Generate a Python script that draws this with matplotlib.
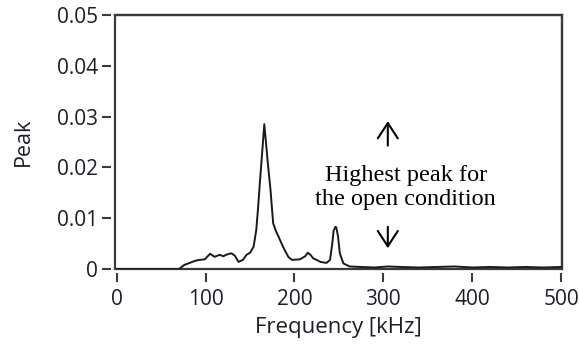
import matplotlib
matplotlib.use("Agg")
import matplotlib.pyplot as plt

freq_khz = [0, 70, 76, 82, 88, 93, 99, 105, 110, 116, 120, 123, 129, 133, 137,
            142, 146, 150, 154, 157, 159, 161, 164, 166, 167.5, 170, 173, 176,
            179, 182, 187, 193, 197, 206, 212, 215, 218, 221, 225, 229, 236,
            240, 242.5, 244, 246, 247, 249, 251, 255, 262, 275, 290, 305, 320,
            340, 360, 380, 400, 420, 440, 460, 480, 500]
peak = [0.0, 0.0, 0.0008, 0.0012, 0.0016, 0.0018, 0.0019, 0.003, 0.0024,
        0.0028, 0.0025, 0.0028, 0.0031, 0.0026, 0.0014, 0.0018, 0.0028, 0.0032,
        0.0044, 0.0077, 0.012, 0.0169, 0.0238, 0.0285, 0.0257, 0.0208, 0.0156,
        0.009, 0.0075, 0.0064, 0.0044, 0.0024, 0.0018, 0.0019, 0.0025, 0.0032,
        0.0028, 0.0021, 0.0018, 0.0014, 0.0012, 0.0018, 0.005, 0.0075, 0.0083,
        0.0082, 0.0064, 0.0031, 0.0011, 0.0005, 0.0004, 0.0003, 0.0005, 0.0004,
        0.0003, 0.0004, 0.0005, 0.0003, 0.0004, 0.0003, 0.0004, 0.0003, 0.0004]

x_ticks = [0, 100, 200, 300, 400, 500]
y_ticks = [0, 0.01, 0.02, 0.03, 0.04, 0.05]
y_tick_labels = ["0", "0.01", "0.02", "0.03", "0.04", "0.05"]

tick_font = "Open Sans"
frame_col = "#3a3a3a"
text_col = "#1e1e28"

fig = plt.figure(figsize=(5.79, 3.54), dpi=100)
ax = fig.add_axes([0.1986, 0.2401, 0.7720, 0.7175])
ax.plot(freq_khz, peak, color="#1a1a1a", lw=1.4, zorder=3)

ax.set_xlim(-2, 501)
ax.set_ylim(0, 0.05)
ax.set_xticks(x_ticks)
ax.set_yticks(y_ticks)
ax.set_yticklabels(y_tick_labels)

for s in ["left", "bottom"]:
    ax.spines[s].set_position(("outward", 3))
    ax.spines[s].set_visible(False)
for s in ["top", "right"]:
    ax.spines[s].set_color(frame_col)
    ax.spines[s].set_linewidth(1.6)
ax.patch.set_edgecolor(frame_col)
ax.patch.set_linewidth(1.6)

ax.tick_params(direction="out", length=6.5, width=1.5, color=frame_col,
               labelsize=15, labelcolor=text_col)
ax.tick_params(axis="x", pad=5)
ax.tick_params(axis="y", pad=3)
for lab in ax.get_xticklabels() + ax.get_yticklabels():
    lab.set_fontfamily(tick_font)
    lab.set_fontweight("medium")

ax.set_xlabel("Frequency [kHz]", fontsize=16, fontfamily=tick_font,
              fontweight="medium", color=text_col, labelpad=5)
ax.set_ylabel("Peak", fontsize=15.5, fontfamily=tick_font, fontweight="medium",
              color=text_col, labelpad=16)

ax.text(325, 0.0161, "Highest peak for\nthe open condition", ha="center",
        va="center", fontsize=17.5, fontfamily="Liberation Serif",
        linespacing=1.2, color="black")
arrow_style = "->,head_length=0.55,head_width=0.36"
ax.annotate("", xy=(305, 0.0291), xytext=(305, 0.0243),
            arrowprops=dict(arrowstyle=arrow_style, lw=1.5, color="black",
                            mutation_scale=20, shrinkA=0, shrinkB=0))
ax.annotate("", xy=(305, 0.0041), xytext=(305, 0.0083),
            arrowprops=dict(arrowstyle=arrow_style, lw=1.5, color="black",
                            mutation_scale=20, shrinkA=0, shrinkB=0))

fig.savefig("out.png", dpi=100)
